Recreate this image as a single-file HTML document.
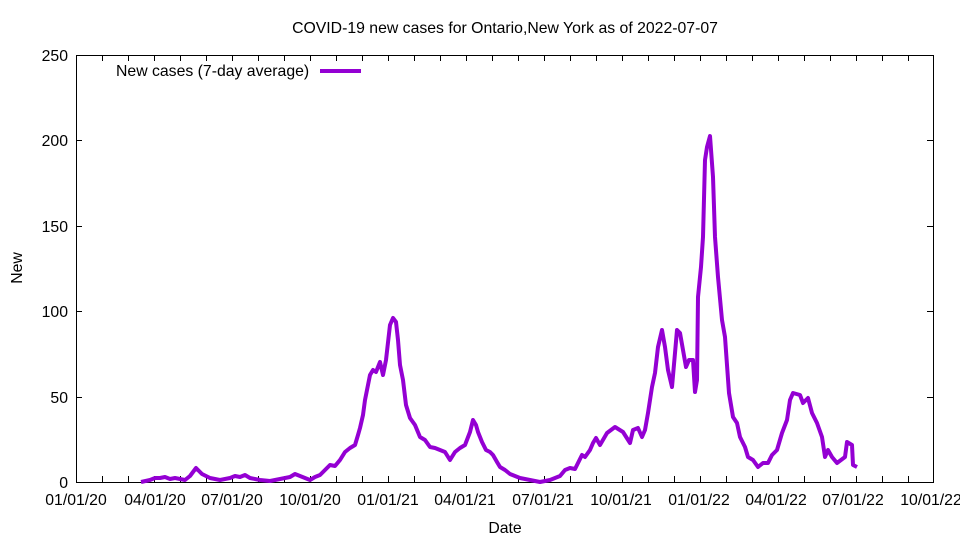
<!DOCTYPE html>
<html><head><meta charset="utf-8"><style>
body{margin:0;background:#fff}
svg{display:block;font-family:"Liberation Sans",sans-serif}
</style></head><body>
<svg width="960" height="540" viewBox="0 0 960 540">
<rect width="960" height="540" fill="#fff"/>
<text x="505" y="33" font-size="15.8" text-anchor="middle">COVID-19 new cases for Ontario,New York as of 2022-07-07</text>
<g stroke="#000" stroke-width="1" fill="none">
<rect x="76.5" y="55.5" width="857" height="427"/>
<path d="M76 397.5h6M933 397.5h-6M76 311.5h6M933 311.5h-6M76 226.5h6M933 226.5h-6M76 140.5h6M933 140.5h-6
M102.5 482v-6M128.5 482v-6M154.5 482v-6M180.5 482v-6M206.5 482v-6M232.5 482v-6M258.5 482v-6M284.5 482v-6M310.5 482v-6M336.5 482v-6M362.5 482v-6M388.5 482v-6M414.5 482v-6M440.5 482v-6M466.5 482v-6M492.5 482v-6M518.5 482v-6M544.5 482v-6M570.5 482v-6M596.5 482v-6M622.5 482v-6M648.5 482v-6M674.5 482v-6M700.5 482v-6M726.5 482v-6M752.5 482v-6M778.5 482v-6M804.5 482v-6M830.5 482v-6M856.5 482v-6M882.5 482v-6M908.5 482v-6
M102.5 55v6M128.5 55v6M154.5 55v6M180.5 55v6M206.5 55v6M232.5 55v6M258.5 55v6M284.5 55v6M310.5 55v6M336.5 55v6M362.5 55v6M388.5 55v6M414.5 55v6M440.5 55v6M466.5 55v6M492.5 55v6M518.5 55v6M544.5 55v6M570.5 55v6M596.5 55v6M622.5 55v6M648.5 55v6M674.5 55v6M700.5 55v6M726.5 55v6M752.5 55v6M778.5 55v6M804.5 55v6M830.5 55v6M856.5 55v6M882.5 55v6M908.5 55v6"/>
</g>
<g font-size="15.8" text-anchor="end">
<text x="68" y="488">0</text><text x="68" y="403">50</text><text x="68" y="317">100</text>
<text x="68" y="232">150</text><text x="68" y="146">200</text><text x="68" y="61">250</text>
</g>
<g font-size="15.8" text-anchor="middle">
<text x="76" y="505">01/01/20</text><text x="155" y="505">04/01/20</text><text x="232" y="505">07/01/20</text>
<text x="310" y="505">10/01/20</text><text x="388" y="505">01/01/21</text><text x="465" y="505">04/01/21</text>
<text x="543" y="505">07/01/21</text><text x="621" y="505">10/01/21</text><text x="699" y="505">01/01/22</text>
<text x="776" y="505">04/01/22</text><text x="853" y="505">07/01/22</text><text x="931" y="505">10/01/22</text>
<text x="505" y="533">Date</text>
<text x="0" y="0" transform="translate(22,268) rotate(-90)">New</text>
</g>
<text x="116" y="76" font-size="15.8">New cases (7-day average)</text>
<path d="M320 71H361" stroke="#9400d3" stroke-width="4"/>
<polyline fill="none" stroke="#9400d3" stroke-width="4" stroke-linejoin="round" points="141,482 150,480 155,478 160,478 165,477 170,479 175,478 180,479 185,480 190,476 193,472 196,468 199,471 202,474 210,478 220,480 230,478 235,476 240,477 245,475 250,478 260,480 270,481 280,479 290,477 295,474 300,476 305,478 310,480 315,477 320,475 325,470 330,465 335,466 340,460 345,452 350,448 355,445 358,435 360,428 363,415 365,400 368,385 370,375 373,370 376,372 380,362 383,375 386,360 390,325 393,318 396,322 398,340 400,365 403,380 406,405 410,418 415,425 420,437 425,440 430,447 435,448 440,450 445,452 450,460 455,452 460,448 465,445 470,432 473,420 476,425 478,432 482,442 486,450 490,452 493,455 497,462 500,467 505,470 510,474 515,476 520,478 525,479 530,480 535,481 540,482 545,481 550,480 555,478 560,476 565,470 570,468 575,469 578,463 582,455 585,457 590,450 593,443 596,438 600,445 607,433 615,427 623,432 630,443 633,430 638,428 642,437 645,430 648,413 652,387 655,373 658,347 662,330 665,347 668,370 672,387 675,353 677,330 680,333 683,350 686,367 689,360 693,360 695,392 697,380 698,297 701,267 703,237 705,160 707,147 710,136 713,177 715,237 718,277 722,320 725,337 729,393 733,417 737,423 740,437 745,447 748,457 753,460 758,467 763,463 768,463 772,455 777,450 782,433 787,420 790,400 793,393 800,395 803,403 808,398 812,413 817,423 822,437 825,457 828,450 832,457 837,463 845,457 847,442 852,445 853,465 857,467"/>
</svg>
</body></html>
